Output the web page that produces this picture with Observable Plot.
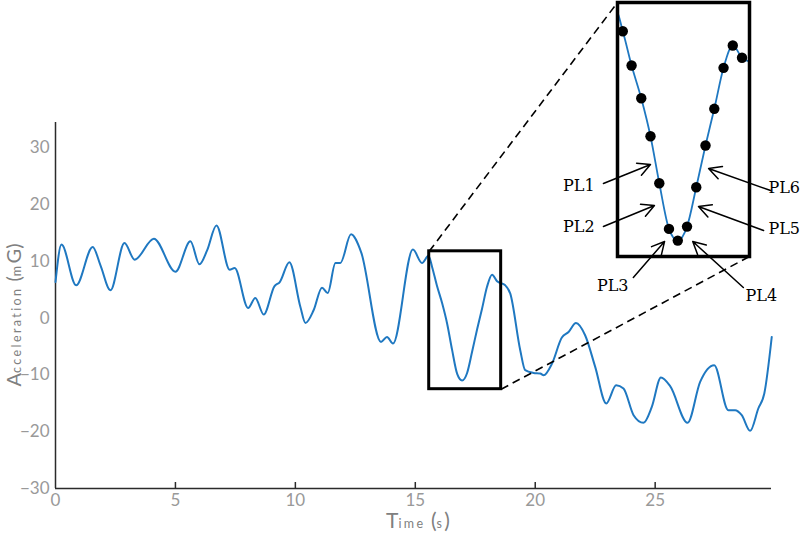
<!DOCTYPE html>
<html><head><meta charset="utf-8">
<script src="https://cdn.jsdelivr.net/npm/d3@7"></script>
<script src="https://cdn.jsdelivr.net/npm/@observablehq/plot@0.6"></script>
<style>
body{margin:0;background:#fff;}
#wrap{position:relative;width:800px;height:533px;overflow:hidden;}
#wrap svg{position:absolute;left:0;top:0;}
</style></head><body><div id="wrap"></div>
<script>
// ---- data ----
const time  = [0,0.25,0.86,1.55,1.875,2.29,2.875,3.30,4.10,5.0,5.625,6.0,6.32,6.71,7.26,7.47,8.03,8.33,8.68,9.125,9.35,9.75,10.21,10.42,10.76,11.11,11.35,11.67,11.875,12.32,12.74,13.57,13.82,14.07,14.90,15.28,15.55,15.70,15.90,16.12,16.33,16.53,16.75,16.95,17.16,17.37,17.58,17.78,17.99,18.20,18.41,18.75,18.96,19.375,19.58,19.93,20.21,20.35,20.70,21.11,21.39,21.70,22.08,22.5,22.96,23.375,23.68,24.10,24.51,24.86,25.24,25.625,26.35,26.875,27.46,28.05,28.33,28.61,28.96,29.30,29.55,29.86];
const accel = [6.39,12.98,5.81,12.55,9.33,4.93,13.26,10.33,14.03,8.2,13.56,9.51,11.97,16.37,8.57,8.86,1.81,3.57,0.65,5.63,6.39,9.86,1.99,-0.83,1.41,5.40,4.45,9.74,9.74,14.79,11.67,-4.17,-3.29,-4.45,12.10,9.74,11.0,9.05,5.77,2.64,-1.0,-5.49,-9.86,-10.98,-9.64,-5.87,-1.88,1.63,5.55,7.69,6.51,5.81,4.35,-5.63,-9.15,-9.63,-9.74,-10.04,-7.98,-3.40,-2.41,-0.83,-2.99,-8.57,-15.02,-11.80,-12.38,-17.08,-18.43,-15.62,-10.44,-11.97,-18.43,-11.21,-8.27,-16.20,-16.20,-17.08,-19.84,-15.90,-13.26,-3.29];
const sampleTime  = [15.70,15.90,16.12,16.33,16.53,16.75,16.95,17.16,17.37,17.58,17.78,17.99,18.20,18.41];
const sampleAccel = [9.05,5.77,2.64,-1.0,-5.49,-9.86,-10.98,-9.64,-5.87,-1.88,1.63,5.55,7.69,6.51];
const xTicks = [0,5,10,15,20,25];
const yTicks = [-30,-20,-10,0,10,20,30];
const zoomTime  = [15.58, 18.58];
const zoomAccel = [-12.5, 11.8];
const pointLabels = ["PL1","PL2","PL3","PL4","PL5","PL6"];
const labelTime  = [14.70,14.70,15.47,18.85,19.37,19.37];
const labelAccel = [-5.71,-9.63,-15.27,-16.23,-9.82,-5.90];
const arrowFromTime  = [15.26,15.26,15.94,18.44,18.90,19.06];
const arrowFromAccel = [-5.52,-9.63,-14.51,-15.47,-10.01,-6.19];
const arrowToTime    = [16.33,16.42,16.65,17.29,17.42,17.65];
const arrowToAccel   = [-3.70,-7.62,-11.06,-11.06,-7.72,-4.08];
const yTitle = [["A",20],["cceleration",12.5],[" (",20],["m",12.5],["G",20],[")",20]];
const xTitle = [["T",21],["ime",12.5],[" (",21],["s",12.5],[")",21]];

// ---- tables ----
const rows = time.map((t,i)=>({t, v: accel[i]}));
const samples = sampleTime.map((t,i)=>({t, v: sampleAccel[i]}));
const notes = pointLabels.map((s,i)=>({s, lt: labelTime[i], lv: labelAccel[i],
  ft: arrowFromTime[i], fv: arrowFromAccel[i], tt: arrowToTime[i], tv: arrowToAccel[i]}));

const blue = "#1f78c1";
const axisColor = "#2b2b2b";
const labelGray = "#999999";

// ---- main chart ----
const W = 800, H = 533;
const mL = 55, mR = 29, mT = 122, mB = 45;
const main = Plot.plot({
  width: W, height: H,
  marginLeft: mL, marginRight: mR, marginTop: mT, marginBottom: mB,
  x: {domain: [0, 29.85], label: null},
  y: {domain: [-30, 34.5], label: null},
  style: {fontFamily: "Lato, 'Open Sans', sans-serif", background: "white", overflow: "visible"},
  marks: [
    Plot.axisY({ticks: yTicks, tickSize: 0, tickPadding: 6, fontSize: 17, fill: labelGray, label: null}),
    Plot.axisX({ticks: xTicks, tickSize: 0, tickPadding: 5, fontSize: 17, fill: labelGray, label: null}),
    Plot.tickX(xTicks.filter(d => d > 0), {x: d => d, stroke: axisColor, strokeWidth: 1.5, insetTop: (H - mT - mB) - 6}),
    Plot.ruleX([0], {stroke: axisColor, strokeWidth: 1.5}),
    Plot.ruleY([-30], {stroke: axisColor, strokeWidth: 1.5}),
    Plot.line(rows, {x: "t", y: "v", stroke: blue, strokeWidth: 2, curve: "monotone-x"}),
    Plot.rect([0], {x1: () => zoomTime[0], x2: () => zoomTime[1], y1: () => zoomAccel[0], y2: () => zoomAccel[1],
      fill: "none", stroke: "black", strokeWidth: 3})
  ]
});
document.getElementById("wrap").appendChild(main);

// axis titles with small-cap style
function addTitle(svg, parts, x, y, rotate) {
  const t = d3.select(svg).append("text")
    .attr("transform", `translate(${x},${y})` + (rotate ? " rotate(-90)" : ""))
    .attr("text-anchor", "middle")
    .attr("fill", "#808080")
    .attr("font-family", "Lato, 'Open Sans', sans-serif");
  parts.forEach(([s, fs]) => {
    t.append("tspan").attr("font-size", fs)
      .attr("letter-spacing", fs < 15 ? 2.4 : 0)
      .attr("xml:space", "preserve")
      .text(s);
  });
}
addTitle(main, yTitle, 21, 315, true);
addTitle(main, xTitle, 418, 528, false);

// ---- inset ----
const mx = main.scale("x"), my = main.scale("y");
const iL = 617, iR = 749, iT = 2, iB = 256;
const ix = Plot.scale({x: {domain: zoomTime, range: [iL, iR]}});
const iy = Plot.scale({y: {domain: zoomAccel, range: [iB, iT]}});
const connectors = [
  {x1: ix.invert(mx.apply(zoomTime[0])), y1: iy.invert(my.apply(zoomAccel[1])), x2: zoomTime[0], y2: zoomAccel[1]},
  {x1: ix.invert(mx.apply(zoomTime[1])), y1: iy.invert(my.apply(zoomAccel[0])), x2: zoomTime[1], y2: zoomAccel[0]}
];
const inset = Plot.plot({
  width: W, height: H,
  marginLeft: iL, marginRight: W - iR, marginTop: iT, marginBottom: H - iB,
  x: {domain: zoomTime, axis: null},
  y: {domain: zoomAccel, axis: null},
  style: {background: "transparent", overflow: "visible"},
  marks: [
    Plot.link(connectors, {x1: "x1", y1: "y1", x2: "x2", y2: "y2", stroke: "black", strokeWidth: 1.6, strokeDasharray: "8,5"}),
    Plot.rect([0], {x1: () => zoomTime[0], x2: () => zoomTime[1], y1: () => zoomAccel[0], y2: () => zoomAccel[1], fill: "white"}),
    Plot.line(rows, {x: "t", y: "v", stroke: blue, strokeWidth: 1.8, curve: "monotone-x", clip: true}),
    Plot.dot(samples, {x: "t", y: "v", r: 5.2, fill: "black"}),
    Plot.frame({stroke: "black", strokeWidth: 3.5}),
    Plot.arrow(notes, {x1: "ft", y1: "fv", x2: "tt", y2: "tv", stroke: "black", strokeWidth: 1.5, headLength: 14, headAngle: 55, bend: 0}),
    Plot.text(notes, {x: "lt", y: "lv", text: "s", fontFamily: "'DejaVu Serif', serif", fontSize: 16, fill: "black"})
  ]
});
document.getElementById("wrap").appendChild(inset);
</script></body></html>
